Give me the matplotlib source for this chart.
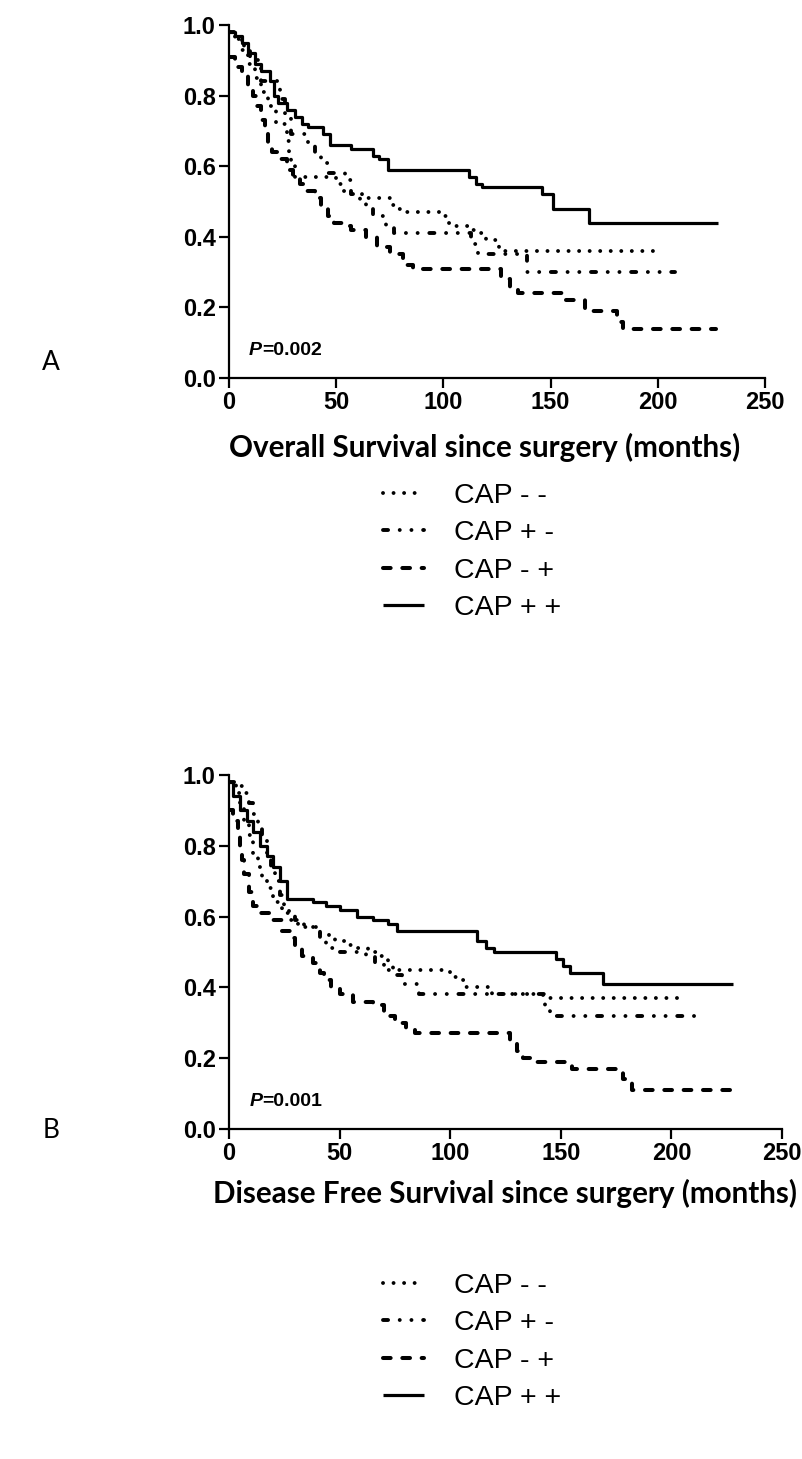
import matplotlib
matplotlib.use("Agg")
import matplotlib.pyplot as plt
from matplotlib.lines import Line2D

# ---- data ----
group_labels = ["CAP - -", "CAP + -", "CAP - +", "CAP + +"]

# Overall survival
os_t_mm = [0, 3, 6, 9, 12, 15, 18, 22, 27, 28, 29, 31, 50, 53, 57, 62, 75, 78, 81, 99, 101, 104, 112, 115, 120, 126, 202]
os_s_mm = [0.98, 0.96, 0.93, 0.89, 0.85, 0.81, 0.77, 0.72, 0.67, 0.64, 0.61, 0.57, 0.55, 0.53, 0.52, 0.51, 0.49, 0.48, 0.47, 0.46, 0.44, 0.43, 0.42, 0.41, 0.39, 0.36, 0.36]

os_t_pm = [0, 4, 7, 10, 15, 24, 26, 29, 37, 40, 43, 46, 54, 57, 61, 64, 67, 73, 77, 113, 116, 139, 208]
os_s_pm = [0.98, 0.96, 0.93, 0.90, 0.84, 0.79, 0.74, 0.69, 0.66, 0.64, 0.61, 0.58, 0.56, 0.52, 0.50, 0.48, 0.46, 0.43, 0.41, 0.38, 0.35, 0.30, 0.30]

os_t_mp = [0, 3, 6, 9, 11, 13, 15, 17, 18, 20, 23, 27, 30, 33, 36, 40, 43, 46, 49, 53, 57, 64, 69, 75, 81, 86, 127, 131, 135, 156, 166, 181, 184, 227]
os_s_mp = [0.91, 0.88, 0.86, 0.83, 0.80, 0.77, 0.73, 0.70, 0.66, 0.64, 0.62, 0.59, 0.57, 0.55, 0.53, 0.51, 0.48, 0.46, 0.44, 0.43, 0.42, 0.40, 0.37, 0.35, 0.32, 0.31, 0.28, 0.25, 0.24, 0.22, 0.19, 0.16, 0.14, 0.14]

os_t_pp = [0, 3, 6, 9, 12, 15, 19, 21, 23, 27, 31, 34, 37, 44, 47, 57, 67, 70, 74, 112, 115, 118, 146, 151, 168, 228]
os_s_pp = [0.98, 0.97, 0.95, 0.92, 0.89, 0.87, 0.84, 0.80, 0.78, 0.76, 0.74, 0.72, 0.71, 0.69, 0.66, 0.65, 0.63, 0.62, 0.59, 0.57, 0.55, 0.54, 0.52, 0.48, 0.44, 0.44]

# Disease free survival
dfs_t_mm = [0, 3, 5, 7, 9, 11, 13, 15, 17, 20, 24, 27, 31, 41, 45, 48, 53, 58, 63, 68, 72, 100, 103, 107, 119, 142, 205]
dfs_s_mm = [0.98, 0.95, 0.91, 0.87, 0.83, 0.78, 0.74, 0.71, 0.68, 0.64, 0.61, 0.59, 0.57, 0.55, 0.54, 0.53, 0.52, 0.51, 0.50, 0.49, 0.45, 0.43, 0.42, 0.40, 0.38, 0.37, 0.37]

dfs_t_pm = [0, 3, 6, 9, 11, 13, 15, 17, 19, 21, 23, 25, 27, 30, 34, 41, 44, 50, 62, 66, 70, 74, 78, 86, 143, 145, 212]
dfs_s_pm = [0.98, 0.97, 0.95, 0.92, 0.89, 0.86, 0.82, 0.78, 0.74, 0.70, 0.66, 0.63, 0.61, 0.59, 0.57, 0.54, 0.51, 0.50, 0.49, 0.47, 0.46, 0.435, 0.41, 0.38, 0.34, 0.32, 0.32]

dfs_t_mp = [0, 2, 4, 5, 6, 7, 9, 11, 14, 20, 24, 28, 30, 33, 38, 41, 43, 46, 50, 56, 65, 70, 75, 80, 84, 127, 130, 133, 136, 155, 178, 182, 227]
dfs_s_mp = [0.90, 0.87, 0.84, 0.80, 0.76, 0.72, 0.67, 0.63, 0.61, 0.59, 0.56, 0.54, 0.51, 0.49, 0.47, 0.44, 0.42, 0.40, 0.38, 0.36, 0.35, 0.32, 0.30, 0.28, 0.27, 0.25, 0.22, 0.20, 0.19, 0.17, 0.14, 0.11, 0.11]

dfs_t_pp = [0, 2, 5, 8, 11, 14, 17, 20, 23, 26, 38, 44, 50, 58, 65, 72, 76, 112, 116, 120, 148, 151, 154, 169, 228]
dfs_s_pp = [0.98, 0.94, 0.90, 0.87, 0.84, 0.80, 0.77, 0.74, 0.70, 0.65, 0.64, 0.63, 0.62, 0.60, 0.59, 0.58, 0.56, 0.53, 0.51, 0.50, 0.48, 0.46, 0.44, 0.41, 0.41]

x_ticks = [0, 50, 100, 150, 200, 250]
y_ticks = [0.0, 0.2, 0.4, 0.6, 0.8, 1.0]

plt.rcParams["font.family"] = "Liberation Sans"
plt.rcParams["font.weight"] = "bold"

# ---- styles ----
styles = [
    dict(lw=2.8, linestyle=(0, (0.01, 2.7)), dash_capstyle="round"),
    dict(lw=2.8, linestyle=(0, (1.3, 3.0, 0.01, 3.0, 0.01, 3.0)), dash_capstyle="round"),
    dict(lw=2.9, linestyle=(0, (1.9, 2.9)), dash_capstyle="round"),
    dict(lw=2.3, linestyle="-", solid_capstyle="butt"),
]

W, H = 803, 1459
fig = plt.figure(figsize=(W / 100, H / 100), dpi=100)


def make_axes(left, right, top, bottom):
    return fig.add_axes([left / W, 1 - bottom / H, (right - left) / W, (bottom - top) / H])


def style_axes(ax, xlabel, label_x, label_y):
    ax.set_xlim(0, 250)
    ax.set_ylim(0, 1.0)
    for side in ["top", "right"]:
        ax.spines[side].set_visible(False)
    for side in ["left", "bottom"]:
        ax.spines[side].set_linewidth(1.6)
    ax.set_xticks(x_ticks)
    ax.set_yticks(y_ticks)
    ax.set_yticklabels(["%.1f" % v for v in y_ticks])
    ax.tick_params(direction="out", length=7, width=1.6, pad=2.5, labelsize=17)
    ax.set_xlabel(xlabel, family="Lato", weight="bold", size=21.3)
    ax.xaxis.set_label_coords(label_x, label_y)


def draw(ax, series):
    for (t, s), st in zip(series, styles):
        ax.step(t, s, where="post", color="black", **st)


def add_legend(x, y):
    handles = [Line2D([], [], color="black", **st) for st in styles]
    fig.legend(handles, group_labels, loc="upper left", bbox_to_anchor=(x / W, 1 - y / H),
               frameon=False, borderpad=0, borderaxespad=0, handlelength=1.45,
               handletextpad=1.05, labelspacing=0.4,
               prop=dict(family="Liberation Sans", weight="normal", size=20.5))


# panel A
ax1 = make_axes(229, 765, 25, 378)
draw(ax1, [(os_t_mm, os_s_mm), (os_t_pm, os_s_pm), (os_t_mp, os_s_mp), (os_t_pp, os_s_pp)])
style_axes(ax1, "Overall Survival since surgery (months)", 0.476, -0.155)
p_txt = ax1.text(0.037, 0.055, "P", transform=ax1.transAxes, ha="left", va="bottom",
                 fontsize=14, style="italic", weight="bold")
ax1.annotate("=0.002", xy=(1, 0), xycoords=p_txt, ha="left", va="bottom",
             fontsize=14, weight="bold")
fig.text(51 / W, 1 - 363 / H, "A", ha="center", va="center", family="Lato",
         weight="normal", size=19)
add_legend(383, 483)

# panel B
ax2 = make_axes(229, 782, 775, 1129)
draw(ax2, [(dfs_t_mm, dfs_s_mm), (dfs_t_pm, dfs_s_pm), (dfs_t_mp, dfs_s_mp), (dfs_t_pp, dfs_s_pp)])
style_axes(ax2, "Disease Free Survival since surgery (months)", 0.50, -0.142)
p_txt2 = ax2.text(0.037, 0.055, "P", transform=ax2.transAxes, ha="left", va="bottom",
                  fontsize=14, style="italic", weight="bold")
ax2.annotate("=0.001", xy=(1, 0), xycoords=p_txt2, ha="left", va="bottom",
             fontsize=14, weight="bold")
fig.text(51 / W, 1 - 1130 / H, "B", ha="center", va="center", family="Lato",
         weight="normal", size=19)
add_legend(383, 1273)

fig.savefig("out.png", dpi=100)
